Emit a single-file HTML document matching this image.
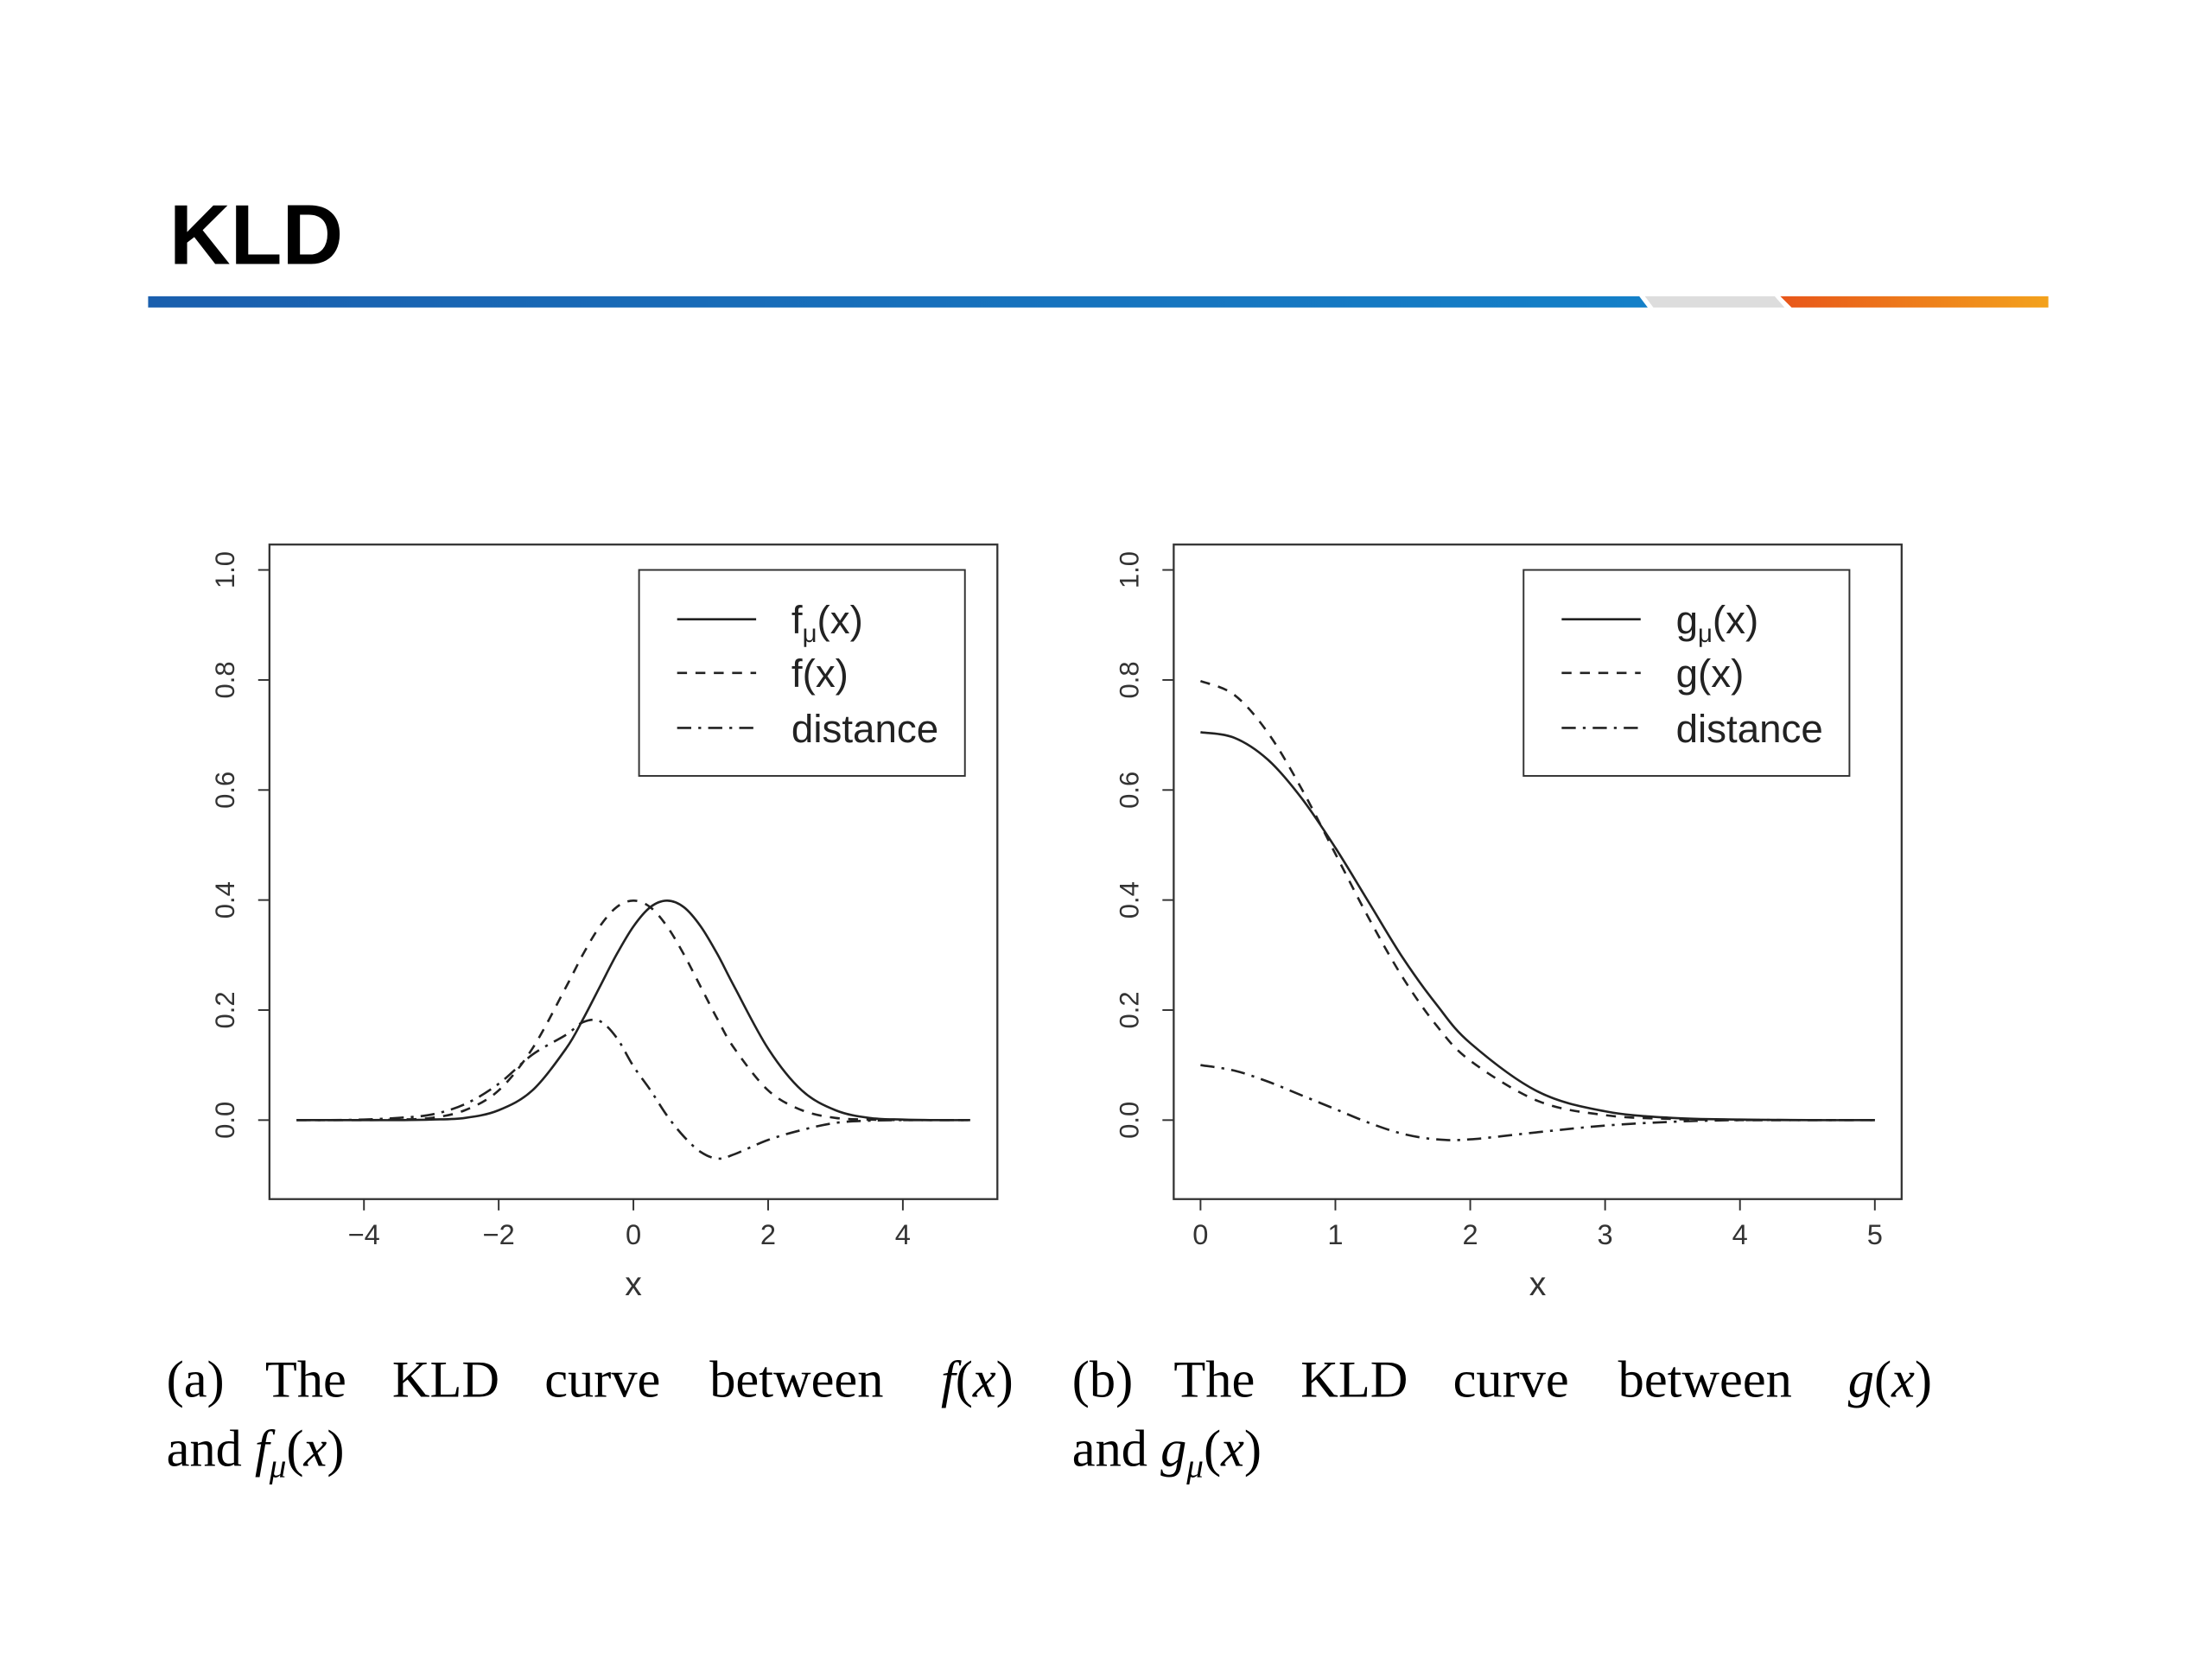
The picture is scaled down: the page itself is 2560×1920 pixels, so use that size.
<!DOCTYPE html>
<html><head><meta charset="utf-8"><style>
html,body{margin:0;padding:0;background:#fff}
svg{display:block}
text{font-family:"Liberation Sans",sans-serif}
.serif{font-family:"Liberation Serif",serif}
</style></head><body>
<svg id="root" width="2560" height="1920" viewBox="0 0 1568 1176" xmlns="http://www.w3.org/2000/svg">
<defs>
<linearGradient id="gb" x1="0" x2="1"><stop offset="0" stop-color="#1a5fae"/><stop offset="1" stop-color="#1480c8"/></linearGradient>
<linearGradient id="go" x1="0" x2="1"><stop offset="0" stop-color="#e8561a"/><stop offset="1" stop-color="#f3a21c"/></linearGradient>
</defs>
<text x="120" y="187" font-size="60" font-weight="bold">KLD</text>
<polygon points="105,210 1162,210 1168,218 105,218" fill="url(#gb)"/>
<polygon points="1166,210 1258,210 1265,218 1172,218" fill="#ddd"/>
<polygon points="1262,210 1452,210 1452,218 1270,218" fill="url(#go)"/>
<g id="plotA"></g>
<g id="plotB"></g>
<g class="serif" font-size="37">
<text class="serif" y="990"><tspan x="118">(a)</tspan><tspan x="188">The</tspan><tspan x="278">KLD</tspan><tspan x="386">curve</tspan><tspan x="503">between</tspan><tspan x="667" font-style="italic">f</tspan>(<tspan font-style="italic">x</tspan>)</text>
<text class="serif" x="118" y="1039">and <tspan font-style="italic">f</tspan><tspan font-style="italic" font-size="24" dy="8">μ</tspan><tspan dy="-8">(</tspan><tspan font-style="italic">x</tspan>)</text>
<text class="serif" y="990"><tspan x="760">(b)</tspan><tspan x="832">The</tspan><tspan x="922">KLD</tspan><tspan x="1030">curve</tspan><tspan x="1147">between</tspan><tspan x="1310" font-style="italic">g</tspan>(<tspan font-style="italic">x</tspan>)</text>
<text class="serif" x="760" y="1039">and <tspan font-style="italic">g</tspan><tspan font-style="italic" font-size="24" dy="8">μ</tspan><tspan dy="-8">(</tspan><tspan font-style="italic">x</tspan>)</text>
</g>
</svg>
<script>
// Plot (a) data
const xA = [-5,-4.5,-4,-3.5,-3,-2.5,-2,-1.5,-1,-0.75,-0.5,-0.25,0,0.25,0.5,0.75,1,1.25,1.5,2,2.5,3,3.5,4,4.5,5];
const fmuA = [0,0,0,0,0.001,0.004,0.018,0.054,0.13,0.183,0.242,0.301,0.352,0.387,0.399,0.387,0.352,0.301,0.242,0.13,0.054,0.018,0.004,0.001,0,0];
const fA = [0,0,0,0.001,0.004,0.018,0.054,0.13,0.242,0.301,0.352,0.387,0.399,0.387,0.352,0.301,0.242,0.183,0.13,0.054,0.018,0.004,0.001,0,0,0];
const distA = [0,0,0.001,0.004,0.01,0.029,0.066,0.119,0.155,0.178,0.18,0.15,0.098,0.055,0.008,-0.03,-0.058,-0.07,-0.062,-0.036,-0.018,-0.005,-0.001,0,0,0];
const xTicksA = [-4,-2,0,2,4];
const xTickLabelsA = ["\u22124","\u22122","0","2","4"];
// Plot (b) data
const xB = [0,0.25,0.5,0.75,1,1.25,1.5,1.75,2,2.5,3,3.5,4,4.5,5];
const gmuB = [0.705,0.695,0.655,0.585,0.495,0.395,0.295,0.21,0.14,0.052,0.016,0.004,0.001,0,0];
const gB = [0.798,0.773,0.704,0.602,0.484,0.366,0.259,0.172,0.108,0.035,0.009,0.002,0,0,0];
const distB = [0.1,0.09,0.07,0.045,0.02,-0.005,-0.025,-0.035,-0.035,-0.022,-0.01,-0.003,0,0,0];
const xTicksB = [0,1,2,3,4,5];
const xTickLabelsB = ["0","1","2","3","4","5"];
const yTicks = [0,0.2,0.4,0.6,0.8,1.0];
const yTickLabels = ["0.0","0.2","0.4","0.6","0.8","1.0"];

const NS="http://www.w3.org/2000/svg";
function mk(p,tag,at){const e=document.createElementNS(NS,tag);for(const k in at)e.setAttribute(k,at[k]);p.appendChild(e);return e;}
function yS(v){return 794-v*390;}
function pathFor(xs,ys,sx){
  const P=xs.map((x,i)=>[sx(x),yS(ys[i])]);
  let d="M"+P[0][0].toFixed(2)+","+P[0][1].toFixed(2);
  for(let i=0;i<P.length-1;i++){
    const p0=P[Math.max(0,i-1)],p1=P[i],p2=P[i+1],p3=P[Math.min(P.length-1,i+2)];
    const c1=[p1[0]+(p2[0]-p0[0])/6,p1[1]+(p2[1]-p0[1])/6];
    const c2=[p2[0]-(p3[0]-p1[0])/6,p2[1]-(p3[1]-p1[1])/6];
    d+=" C"+c1.map(v=>v.toFixed(2))+" "+c2.map(v=>v.toFixed(2))+" "+p2.map(v=>v.toFixed(2));
  }
  return d;
}
function drawPlot(g,x0,sx,xs,series,xt,xtl,legendX,labels,prefix){
  let e=mk(g,'rect',{x:x0,y:386,width:516,height:464,fill:'none',stroke:'#333','stroke-width':1.4});
  
  
  yTicks.forEach((v,i)=>{
    let t=mk(g,'line',{x1:x0,x2:x0-8,y1:yS(v),y2:yS(v),stroke:'#333','stroke-width':1.2});
    
    
    let l=mk(g,'text',{x:0,y:0,'font-size':19,fill:'#333','text-anchor':'middle',transform:'translate('+(x0-25)+','+yS(v)+') rotate(-90)'});
    l.textContent=yTickLabels[i];
    
    
  });
  xt.forEach((v,i)=>{
    let t=mk(g,'line',{x1:sx(v),x2:sx(v),y1:850,y2:858,stroke:'#333','stroke-width':1.2});
    
    
    let l=mk(g,'text',{x:sx(v),y:882,'font-size':20,fill:'#333','text-anchor':'middle'});
    l.textContent=xtl[i];
    
    
  });
  let xl=mk(g,'text',{x:x0+258,y:918,'font-size':24,fill:'#333','text-anchor':'middle'});
  xl.textContent='x';
  
  
  const dashes=['none','7,6','10,5,2,5'];
  const names=['mu-curve','base-curve','distance-curve'];
  series.forEach((ys,i)=>{
    let p=mk(g,'path',{d:pathFor(xs,ys,sx),fill:'none',stroke:'#222','stroke-width':1.6,'stroke-dasharray':dashes[i]});
    
    
  });
  let lb=mk(g,'rect',{x:legendX,y:404,width:231,height:146,fill:'#fff',stroke:'#333','stroke-width':1.2});
  
  
  [439,477,516].forEach((yy,i)=>{
    let ln=mk(g,'line',{x1:legendX+27,x2:legendX+83,y1:yy,y2:yy,stroke:'#222','stroke-width':1.6,'stroke-dasharray':dashes[i]});
    
    
    let tx=mk(g,'text',{x:legendX+108,y:yy+10,'font-size':28,fill:'#222'});
    tx.innerHTML=labels[i];
    
    
  });
}
const sxA=v=>449+v*47.75;
const sxB=v=>851+v*95.6;
drawPlot(document.getElementById('plotA'),191,sxA,xA,[fmuA,fA,distA],xTicksA,xTickLabelsA,453,
 ['f<tspan font-size="18" dy="6">μ</tspan><tspan dy="-6">(x)</tspan>','f(x)','distance'],'a');
drawPlot(document.getElementById('plotB'),832,sxB,xB,[gmuB,gB,distB],xTicksB,xTickLabelsB,1080,
 ['g<tspan font-size="18" dy="6">μ</tspan><tspan dy="-6">(x)</tspan>','g(x)','distance'],'b');
</script>
</body></html>
